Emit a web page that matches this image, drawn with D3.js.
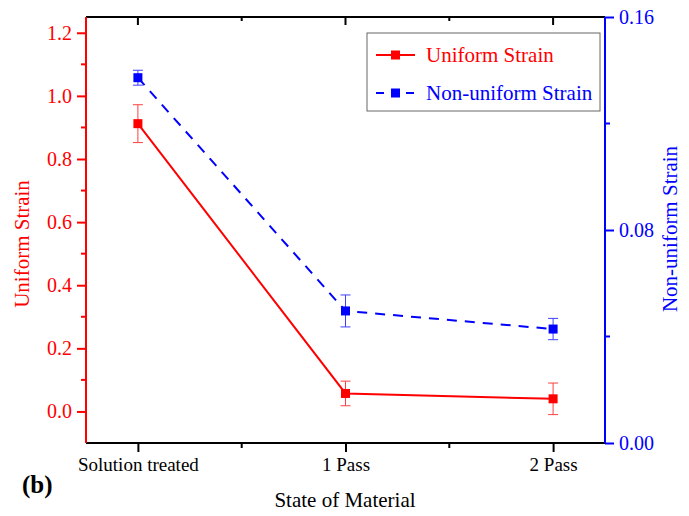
<!DOCTYPE html>
<html>
<head>
<meta charset="utf-8">
<script src="https://cdn.jsdelivr.net/npm/d3@7"></script>
<style>
  body { margin: 0; background: #fff; }
  svg text { font-family: "Liberation Serif", "Times New Roman", Times, serif !important; }
</style>
</head>
<body>
<svg width="689" height="516"></svg>
<script>
// categories on the x axis
const states = ['Solution treated', '1 Pass', '2 Pass'];
// uniform strain (left axis) with error
const uniform = [0.912, 0.057, 0.040];
const uniformErr = [0.06, 0.039, 0.05];
// non-uniform strain (right axis) with error
const nonUniform = [0.1372, 0.0496, 0.0428];
const nonUniformErr = [0.0028, 0.006, 0.004];

const leftTicks = [0, 0.2, 0.4, 0.6, 0.8, 1.0, 1.2];
const rightTicks = [0, 0.08, 0.16];

const RED = '#ff0000', BLUE = '#0000ff';
const SERIF = '"Liberation Serif", "Times New Roman", serif';

let svg = d3.select('svg');
let m = {left: 86, right: 605, top: 17, bottom: 443};

let x = d3.scaleLinear().domain([0.75, 3.25]).range([m.left, m.right]);
let yL = d3.scaleLinear().domain([-0.1, 1.25]).range([m.bottom, m.top]);
let yR = d3.scaleLinear().domain([0, 0.16]).range([m.bottom, m.top]);

// bottom axis
let xAxis = svg.append('g').attr('transform', `translate(0,${m.bottom})`)
    .call(d3.axisBottom(x).tickValues([1, 2, 3]).tickSize(9).tickPadding(6)
        .tickFormat((d, i) => states[i]));
xAxis.attr('font-family', SERIF);
xAxis.append('g').selectAll('line').data([1.5, 2.5]).enter().append('line')
    .attr('x1', d => x(d)).attr('x2', d => x(d)).attr('y1', 0).attr('y2', 5)
    .attr('stroke', '#000').attr('stroke-width', 2);
xAxis.select('.domain').attr('stroke-width', 2).attr('d', `M${m.left},0H${m.right}`);
xAxis.selectAll('.tick line').attr('stroke-width', 2);
xAxis.selectAll('.tick text').style('font-size', '19px').attr('fill', '#000');

// top frame with inward ticks
let topAxis = svg.append('g').attr('transform', `translate(0,${m.top})`);
topAxis.append('line').attr('x1', m.left).attr('x2', m.right).attr('stroke', '#000').attr('stroke-width', 2);
topAxis.selectAll('line.t').data([1, 2, 3]).enter().append('line').attr('class', 't')
    .attr('x1', d => x(d)).attr('x2', d => x(d)).attr('y1', 0).attr('y2', 8)
    .attr('stroke', '#000').attr('stroke-width', 2);
topAxis.selectAll('line.m').data([1.5, 2.5]).enter().append('line').attr('class', 'm')
    .attr('x1', d => x(d)).attr('x2', d => x(d)).attr('y1', 0).attr('y2', 4)
    .attr('stroke', '#000').attr('stroke-width', 2);

// left axis
let left = svg.append('g').attr('transform', `translate(${m.left},0)`)
    .call(d3.axisLeft(yL).tickValues(leftTicks).tickSize(9).tickPadding(5).tickFormat(d3.format('.1f')));
left.attr('font-family', SERIF);
left.select('.domain').attr('stroke', RED).attr('stroke-width', 2).attr('d', `M0,${m.bottom}V${m.top}`);
left.selectAll('.tick line').attr('stroke', RED).attr('stroke-width', 2);
left.selectAll('.tick text').attr('fill', RED).style('font-size', '20px');
left.append('g').selectAll('line').data([0.1, 0.3, 0.5, 0.7, 0.9, 1.1]).enter().append('line')
    .attr('x1', -5).attr('x2', 0).attr('y1', d => yL(d)).attr('y2', d => yL(d))
    .attr('stroke', RED).attr('stroke-width', 2);

// right axis
let right = svg.append('g').attr('transform', `translate(${m.right},0)`)
    .call(d3.axisRight(yR).tickValues(rightTicks).tickSize(9).tickPadding(5).tickFormat(d3.format('.2f')));
right.attr('font-family', SERIF);
right.select('.domain').attr('stroke', BLUE).attr('stroke-width', 2).attr('d', `M0,${m.bottom}V${m.top}`);
right.selectAll('.tick line').attr('stroke', BLUE).attr('stroke-width', 2);
right.selectAll('.tick text').attr('fill', BLUE).style('font-size', '20px');
right.append('g').selectAll('line').data([0.04, 0.12]).enter().append('line')
    .attr('x1', 0).attr('x2', 5).attr('y1', d => yR(d)).attr('y2', d => yR(d))
    .attr('stroke', BLUE).attr('stroke-width', 2);

// axis titles
svg.append('text').attr('x', 345).attr('y', 507).attr('text-anchor', 'middle')
    .style('font-size', '21px').attr('fill', '#000').text('State of Material');
svg.append('text').attr('transform', 'translate(29,244) rotate(-90)').attr('text-anchor', 'middle')
    .style('font-size', '21px').attr('fill', RED).text('Uniform Strain');
svg.append('text').attr('transform', 'translate(677,229) rotate(-90)').attr('text-anchor', 'middle')
    .style('font-size', '21px').attr('fill', BLUE).text('Non-uniform Strain');
svg.append('text').attr('x', 22).attr('y', 493).style('font-size', '25px').style('font-weight', 'bold')
    .attr('fill', '#000').text('(b)');

function series(vals, errs, yScale, color, dash) {
    let g = svg.append('g');
    let pts = vals.map((v, i) => ({x: i + 1, y: v, e: errs[i]}));
    g.append('path').datum(pts)
        .attr('d', d3.line().x(d => x(d.x)).y(d => yScale(d.y)))
        .attr('fill', 'none').attr('stroke', color).attr('stroke-width', 2)
        .attr('stroke-dasharray', dash);
    let eb = g.selectAll('g.err').data(pts).enter().append('g')
        .attr('stroke', color).attr('stroke-width', 1).attr('opacity', 0.75);
    eb.append('line').attr('x1', d => x(d.x)).attr('x2', d => x(d.x))
        .attr('y1', d => yScale(d.y - d.e)).attr('y2', d => yScale(d.y + d.e));
    eb.append('line').attr('x1', d => x(d.x) - 5).attr('x2', d => x(d.x) + 5)
        .attr('y1', d => yScale(d.y - d.e)).attr('y2', d => yScale(d.y - d.e));
    eb.append('line').attr('x1', d => x(d.x) - 5).attr('x2', d => x(d.x) + 5)
        .attr('y1', d => yScale(d.y + d.e)).attr('y2', d => yScale(d.y + d.e));
    g.selectAll('rect').data(pts).enter().append('rect')
        .attr('x', d => x(d.x) - 4.5).attr('y', d => yScale(d.y) - 4.5)
        .attr('width', 9).attr('height', 9).attr('fill', color);
}
series(uniform, uniformErr, yL, RED, null);
series(nonUniform, nonUniformErr, yR, BLUE, '10,8');

// legend
let lg = svg.append('g');
lg.append('rect').attr('x', 367).attr('y', 33).attr('width', 233).attr('height', 78)
    .attr('fill', '#fff').attr('stroke', '#666').attr('stroke-width', 1);
let items = [{name: 'Uniform Strain', color: RED, dash: null, y: 55},
             {name: 'Non-uniform Strain', color: BLUE, dash: '8,7', y: 93}];
let it = lg.selectAll('g.item').data(items).enter().append('g');
it.append('line').attr('x1', 376).attr('x2', 415).attr('y1', d => d.y).attr('y2', d => d.y)
    .attr('stroke', d => d.color).attr('stroke-width', 2).attr('stroke-dasharray', d => d.dash);
it.append('rect').attr('x', 391).attr('y', d => d.y - 4.5).attr('width', 9).attr('height', 9)
    .attr('fill', d => d.color);
it.append('text').attr('x', 426).attr('y', d => d.y + 7).style('font-size', '21px')
    .attr('fill', d => d.color).text(d => d.name);
</script>
</body>
</html>
